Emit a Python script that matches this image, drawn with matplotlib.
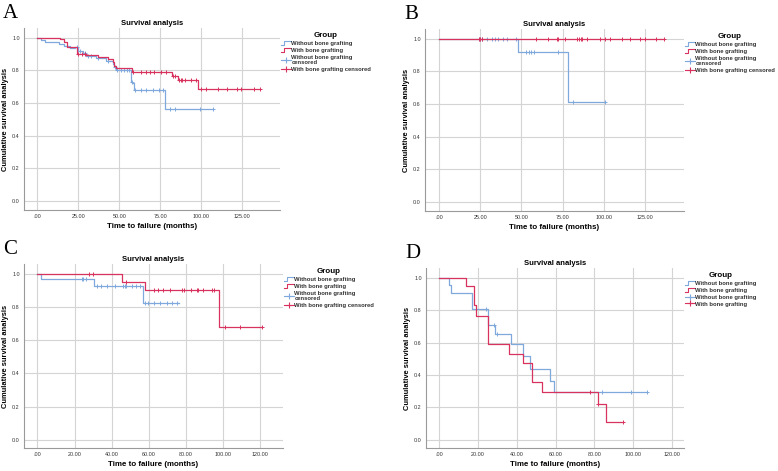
import matplotlib
matplotlib.use('Agg')
import matplotlib.pyplot as plt
import numpy as np
from matplotlib.lines import Line2D
from matplotlib.legend_handler import HandlerBase

matplotlib.rcParams['font.family'] = 'Liberation Sans'

BLUE = '#7fa8dc'
RED = '#d8325e'

# ---- Panel A ----
a_wo_t = [0, 2, 5, 13, 16, 20, 23, 25, 28, 30, 36, 42, 46, 47, 48, 57, 58, 59, 78]
a_wo_s = [1.0, 0.986, 0.972, 0.961, 0.948, 0.94, 0.945, 0.92, 0.905, 0.89, 0.875, 0.86, 0.84, 0.82, 0.80, 0.73, 0.72, 0.68, 0.565]
a_wo_end = 107
a_wo_cens = [24, 26, 29, 31, 33, 37, 43, 47.5, 48.5, 51, 53, 55, 56, 57.5, 59.6, 63, 66, 70.7, 74, 76.5, 81, 84, 99, 107]
a_w_t = [0, 14, 16.4, 18, 24, 30, 37, 43, 46, 47, 48, 58, 82, 86, 98]
a_w_s = [1.0, 0.99, 0.972, 0.945, 0.90, 0.895, 0.88, 0.87, 0.85, 0.83, 0.815, 0.79, 0.765, 0.74, 0.685]
a_w_end = 136
a_w_cens = [25, 27, 29, 58.5, 63, 66, 68.7, 71, 75.4, 78.3, 82.5, 84, 86.4, 87.5, 88.5, 90, 94, 97,
            100, 102.6, 110, 115.4, 121.5, 124, 132, 136]

# ---- Panel B ----
b_wo_t = [0, 48, 78]
b_wo_s = [1.0, 0.92, 0.61]
b_wo_end = 100.7
b_wo_cens = [24, 25, 26, 29, 32, 34, 36, 38.6, 41.5, 46.7, 53, 54.5, 56, 57.5, 72.4, 81.5, 100.7]
b_w_t = [0]
b_w_s = [1.0]
b_w_end = 136.5
b_w_cens = [24, 25, 26, 58.9, 66.3, 71.4, 72, 76.5, 84, 85, 86, 87, 89.6, 97.7, 100.7, 103.8,
            110.8, 115.9, 122, 125, 132, 136.5]

# ---- Panel C ----
c_wo_t = [0, 2, 30.7, 57]
c_wo_s = [1.0, 0.97, 0.93, 0.826]
c_wo_end = 76
c_wo_cens = [23.9, 24.8, 26, 32, 34.3, 37.3, 41.8, 46.3, 46.9, 47.7, 50.8, 53.1, 55.3,
             58, 59.7, 62.8, 66, 69.6, 72.3, 75]
c_w_t = [0, 45.8, 58, 98]
c_w_s = [1.0, 0.952, 0.905, 0.677]
c_w_end = 121
c_w_cens = [28, 29.8, 47.6, 62.8, 65.1, 67.5, 71.4, 77.7, 78.9, 82.7, 85.8, 86.7, 89.3, 94.2, 95.1,
            101, 109, 121]

# ---- Panel D ----
d_wo_t = [0, 5, 6, 17, 25, 29, 37, 43, 47, 57, 59]
d_wo_s = [1.0, 0.953, 0.905, 0.81, 0.71, 0.65, 0.59, 0.515, 0.44, 0.363, 0.296]
d_wo_end = 107
d_wo_cens = [24, 28, 30, 84, 99, 107]
d_w_t = [0, 14, 18, 19, 25, 36, 43, 48, 53, 82, 86]
d_w_s = [1.0, 0.947, 0.83, 0.766, 0.59, 0.532, 0.472, 0.357, 0.296, 0.22, 0.111]
d_w_end = 95
d_w_cens = [78, 82, 95]

labels_cens = ["Without bone grafting", "With bone grafting",
               "Without bone grafting\ncensored", "With bone grafting censored"]
labels_d = ["Without bone grafting", "With bone grafting",
            "Without bone grafting", "With bone grafting"]


class StepHandler(HandlerBase):
    def create_artists(self, legend, orig_handle, xdescent, ydescent, width, height, fontsize, trans):
        x0 = -xdescent
        y0 = -ydescent
        xs = [x0, x0 + width * 0.35, x0 + width * 0.35, x0 + width]
        ys = [y0 + height * 0.05, y0 + height * 0.05, y0 + height * 0.95, y0 + height * 0.95]
        ln = Line2D(xs, ys, color=orig_handle.get_color(), lw=0.8)
        ln.set_transform(trans)
        return [ln]


def km(ax, t, s, end, cens, color):
    xs = list(t) + [end]
    ys = list(s) + [s[-1]]
    ax.step(xs, ys, where='post', color=color, lw=0.9)
    t_arr = np.array(t)
    cy = [s[np.searchsorted(t_arr, c, side='right') - 1] for c in cens]
    ax.plot(cens, cy, ls='none', marker='+', ms=3.5, mew=0.7, color=color)


fig = plt.figure(figsize=(7.78, 4.71), dpi=100)
W, H = 778, 471

# panel pixel boxes: left, right, top, bottom
boxes = [(24, 280, 28, 210), (425, 684, 29, 211), (24, 283, 264, 448), (426, 684, 268, 448)]
xlims = [(-8.1, 148), (-8.5, 148.7), (-7.2, 132.2), (-6.8, 126.2)]
ylims = [(-0.055, 1.06), (-0.055, 1.06), (-0.05, 1.06), (-0.05, 1.06)]
xticks = [[0, 25, 50, 75, 100, 125], [0, 25, 50, 75, 100, 125],
          [0, 20, 40, 60, 80, 100, 120], [0, 20, 40, 60, 80, 100, 120]]
data = [
    (a_wo_t, a_wo_s, a_wo_end, a_wo_cens, a_w_t, a_w_s, a_w_end, a_w_cens),
    (b_wo_t, b_wo_s, b_wo_end, b_wo_cens, b_w_t, b_w_s, b_w_end, b_w_cens),
    (c_wo_t, c_wo_s, c_wo_end, c_wo_cens, c_w_t, c_w_s, c_w_end, c_w_cens),
    (d_wo_t, d_wo_s, d_wo_end, d_wo_cens, d_w_t, d_w_s, d_w_end, d_w_cens),
]
letters = ['A', 'B', 'C', 'D']

for i in range(4):
    l, r, tp, bt = boxes[i]
    ax = fig.add_axes([l / W, 1 - bt / H, (r - l) / W, (bt - tp) / H])
    wo_t, wo_s, wo_end, wo_c, w_t, w_s, w_end, w_c = data[i]
    km(ax, wo_t, wo_s, wo_end, wo_c, BLUE)
    km(ax, w_t, w_s, w_end, w_c, RED)
    ax.set_xlim(*xlims[i])
    ax.set_ylim(*ylims[i])
    ax.set_xticks(xticks[i])
    ax.set_xticklabels(['.00' if v == 0 else f'{v}.00' for v in xticks[i]])
    ax.set_yticks([0, 0.2, 0.4, 0.6, 0.8, 1.0])
    ax.set_yticklabels(['0.0', '0.2', '0.4', '0.6', '0.8', '1.0'])
    ax.grid(True, color='#d4d4d4', lw=0.8)
    ax.set_axisbelow(True)
    for sp in ['top', 'right']:
        ax.spines[sp].set_visible(False)
    for sp in ['left', 'bottom']:
        ax.spines[sp].set_color('#9a9a9a')
        ax.spines[sp].set_linewidth(0.8)
    ax.tick_params(axis='x', length=0, labelsize=3.9, colors='#333333', pad=3)
    ax.tick_params(axis='y', length=0, labelsize=3.9, colors='#333333', pad=3)
    ax.set_title('Survival analysis', fontsize=5.5, fontweight='bold', pad=2)
    ax.set_xlabel('Time to failure (months)', fontsize=5.7, fontweight='bold', labelpad=3)
    ax.set_ylabel('Cumulative survival analysis', fontsize=5.4, fontweight='bold', labelpad=2)

    h1 = Line2D([], [], color=BLUE)
    h2 = Line2D([], [], color=RED)
    h3 = Line2D([], [], color=BLUE, marker='+', ms=5, mew=0.8, lw=0.8)
    h4 = Line2D([], [], color=RED, marker='+', ms=5, mew=0.8, lw=0.8)
    labs = labels_d if i == 3 else labels_cens
    leg = ax.legend([h1, h2, h3, h4], labs, loc='upper left', bbox_to_anchor=(1.0, 0.98),
                    frameon=False, fontsize=4.2, title='Group',
                    title_fontproperties={'weight': 'bold', 'size': 5.8},
                    handler_map={h1: StepHandler(), h2: StepHandler()},
                    handlelength=1.7, handletextpad=0.15, labelspacing=0.3, borderpad=0,
                    borderaxespad=0.1)
    for txt in leg.get_texts():
        txt.set_fontweight('bold')
        txt.set_color('#333333')

    fig.text((l - 21) / W, 1 - (tp - 24) / H, letters[i], fontsize=15,
             family='Liberation Serif', va='top', ha='left')

fig.savefig('out.png', dpi=100)
